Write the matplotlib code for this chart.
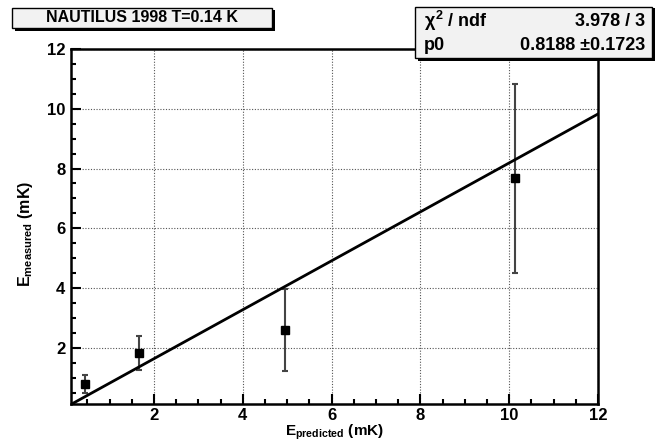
import numpy as np
import matplotlib
matplotlib.use("Agg")
import matplotlib.pyplot as plt
from matplotlib.patches import Rectangle
from matplotlib.ticker import MultipleLocator

plt.rcParams['font.family'] = 'Liberation Sans'
plt.rcParams['font.weight'] = 'bold'
plt.rcParams['mathtext.fontset'] = 'custom'
plt.rcParams['mathtext.rm'] = 'Liberation Sans:bold'
plt.rcParams['mathtext.it'] = 'Liberation Sans:bold'
plt.rcParams['mathtext.bf'] = 'Liberation Sans:bold'

# data
e_pred = [0.45, 1.67, 4.94, 10.13]
e_meas = [0.79, 1.83, 2.60, 7.68]
e_err = [0.30, 0.57, 1.38, 3.16]

# fit result
p0 = 0.8188
p0_err = 0.1723
chi2 = 3.978
ndf = 3

title = "NAUTILUS 1998 T=0.14 K"
xmin, xmax = 0.13, 12.0
ymin, ymax = 0.12, 12.0

W, H = 660, 443
fig = plt.figure(figsize=(W / 100, H / 100), dpi=100)
ax = fig.add_axes([71 / W, 1 - 404 / H, (598 - 71) / W, (404 - 49) / H])

ax.errorbar(e_pred, e_meas, yerr=e_err, fmt='s', color='black', ecolor='#444444',
            markersize=6, elinewidth=1.5, capsize=2, capthick=1.5, zorder=3)

xfit = np.array([xmin, xmax])
ax.plot(xfit, p0 * xfit, color='black', lw=2, zorder=4)

ax.set_xlim(xmin, xmax)
ax.set_ylim(ymin, ymax)
ax.xaxis.set_minor_locator(MultipleLocator(0.5))
ax.yaxis.set_minor_locator(MultipleLocator(0.5))
ax.tick_params(which='both', direction='in', top=False, right=False, width=1.5,
               labelsize=12)
ax.tick_params(axis='x', pad=3)
ax.tick_params(axis='y', pad=4)
ax.tick_params(which='major', length=7)
ax.tick_params(which='minor', length=3.5)
ticks = [2, 4, 6, 8, 10, 12]
ax.set_xticks(ticks)
ax.set_yticks(ticks)
ax.set_xticklabels([str(t) for t in ticks], fontweight='bold', fontsize=12)
ax.set_yticklabels([str(t) for t in ticks], fontweight='bold', fontsize=12)
ax.grid(True, which='major', ls=(0, (1, 1.5)), color='#555555', lw=0.8)
for sp in ax.spines.values():
    sp.set_linewidth(1.8)

ax.set_xlabel(r'$\mathbf{E_{predicted}}$ (mK)', fontsize=11, fontweight='bold')
ax.set_ylabel(r'$\mathbf{E_{measured}}$ (mK)', fontsize=11.5, fontweight='bold')
ax.xaxis.set_label_coords(0.5, -0.053)
ax.yaxis.set_label_coords(-0.068, 0.48)

# title box with shadow
fig.patches.append(Rectangle((15 / W, 1 - 31 / H), 260 / W, 21 / H, transform=fig.transFigure,
                             facecolor='black', edgecolor='none', zorder=1))
fig.patches.append(Rectangle((12 / W, 1 - 28 / H), 260 / W, 20 / H, transform=fig.transFigure,
                             facecolor='#f2f2f2', edgecolor='black', lw=1, zorder=2))
fig.text(142 / W, 1 - 18 / H, title, ha='center', va='center', fontsize=11.5,
         fontweight='bold', zorder=3)

# stats box with shadow
fig.patches.append(Rectangle((418 / W, 1 - 61 / H), 237 / W, 53 / H, transform=fig.transFigure,
                             facecolor='black', edgecolor='none', zorder=5))
fig.patches.append(Rectangle((415 / W, 1 - 58 / H), 237 / W, 51 / H, transform=fig.transFigure,
                             facecolor='#f2f2f2', edgecolor='black', lw=1, zorder=6))
fig.text(424 / W, 1 - 21 / H, r'$\chi^{2}$ / ndf', ha='left', va='center', fontsize=13,
         fontweight='bold', zorder=7)
fig.text(645 / W, 1 - 21 / H, f'{chi2:.3f} / {ndf}', ha='right', va='center', fontsize=13,
         fontweight='bold', zorder=7)
fig.text(424 / W, 1 - 45 / H, 'p0', ha='left', va='center', fontsize=13,
         fontweight='bold', zorder=7)
fig.text(645 / W, 1 - 45 / H, f'{p0:.4f} \u00b1{p0_err:.4f}', ha='right', va='center',
         fontsize=13, fontweight='bold', zorder=7)

fig.savefig('out.png', dpi=100)
